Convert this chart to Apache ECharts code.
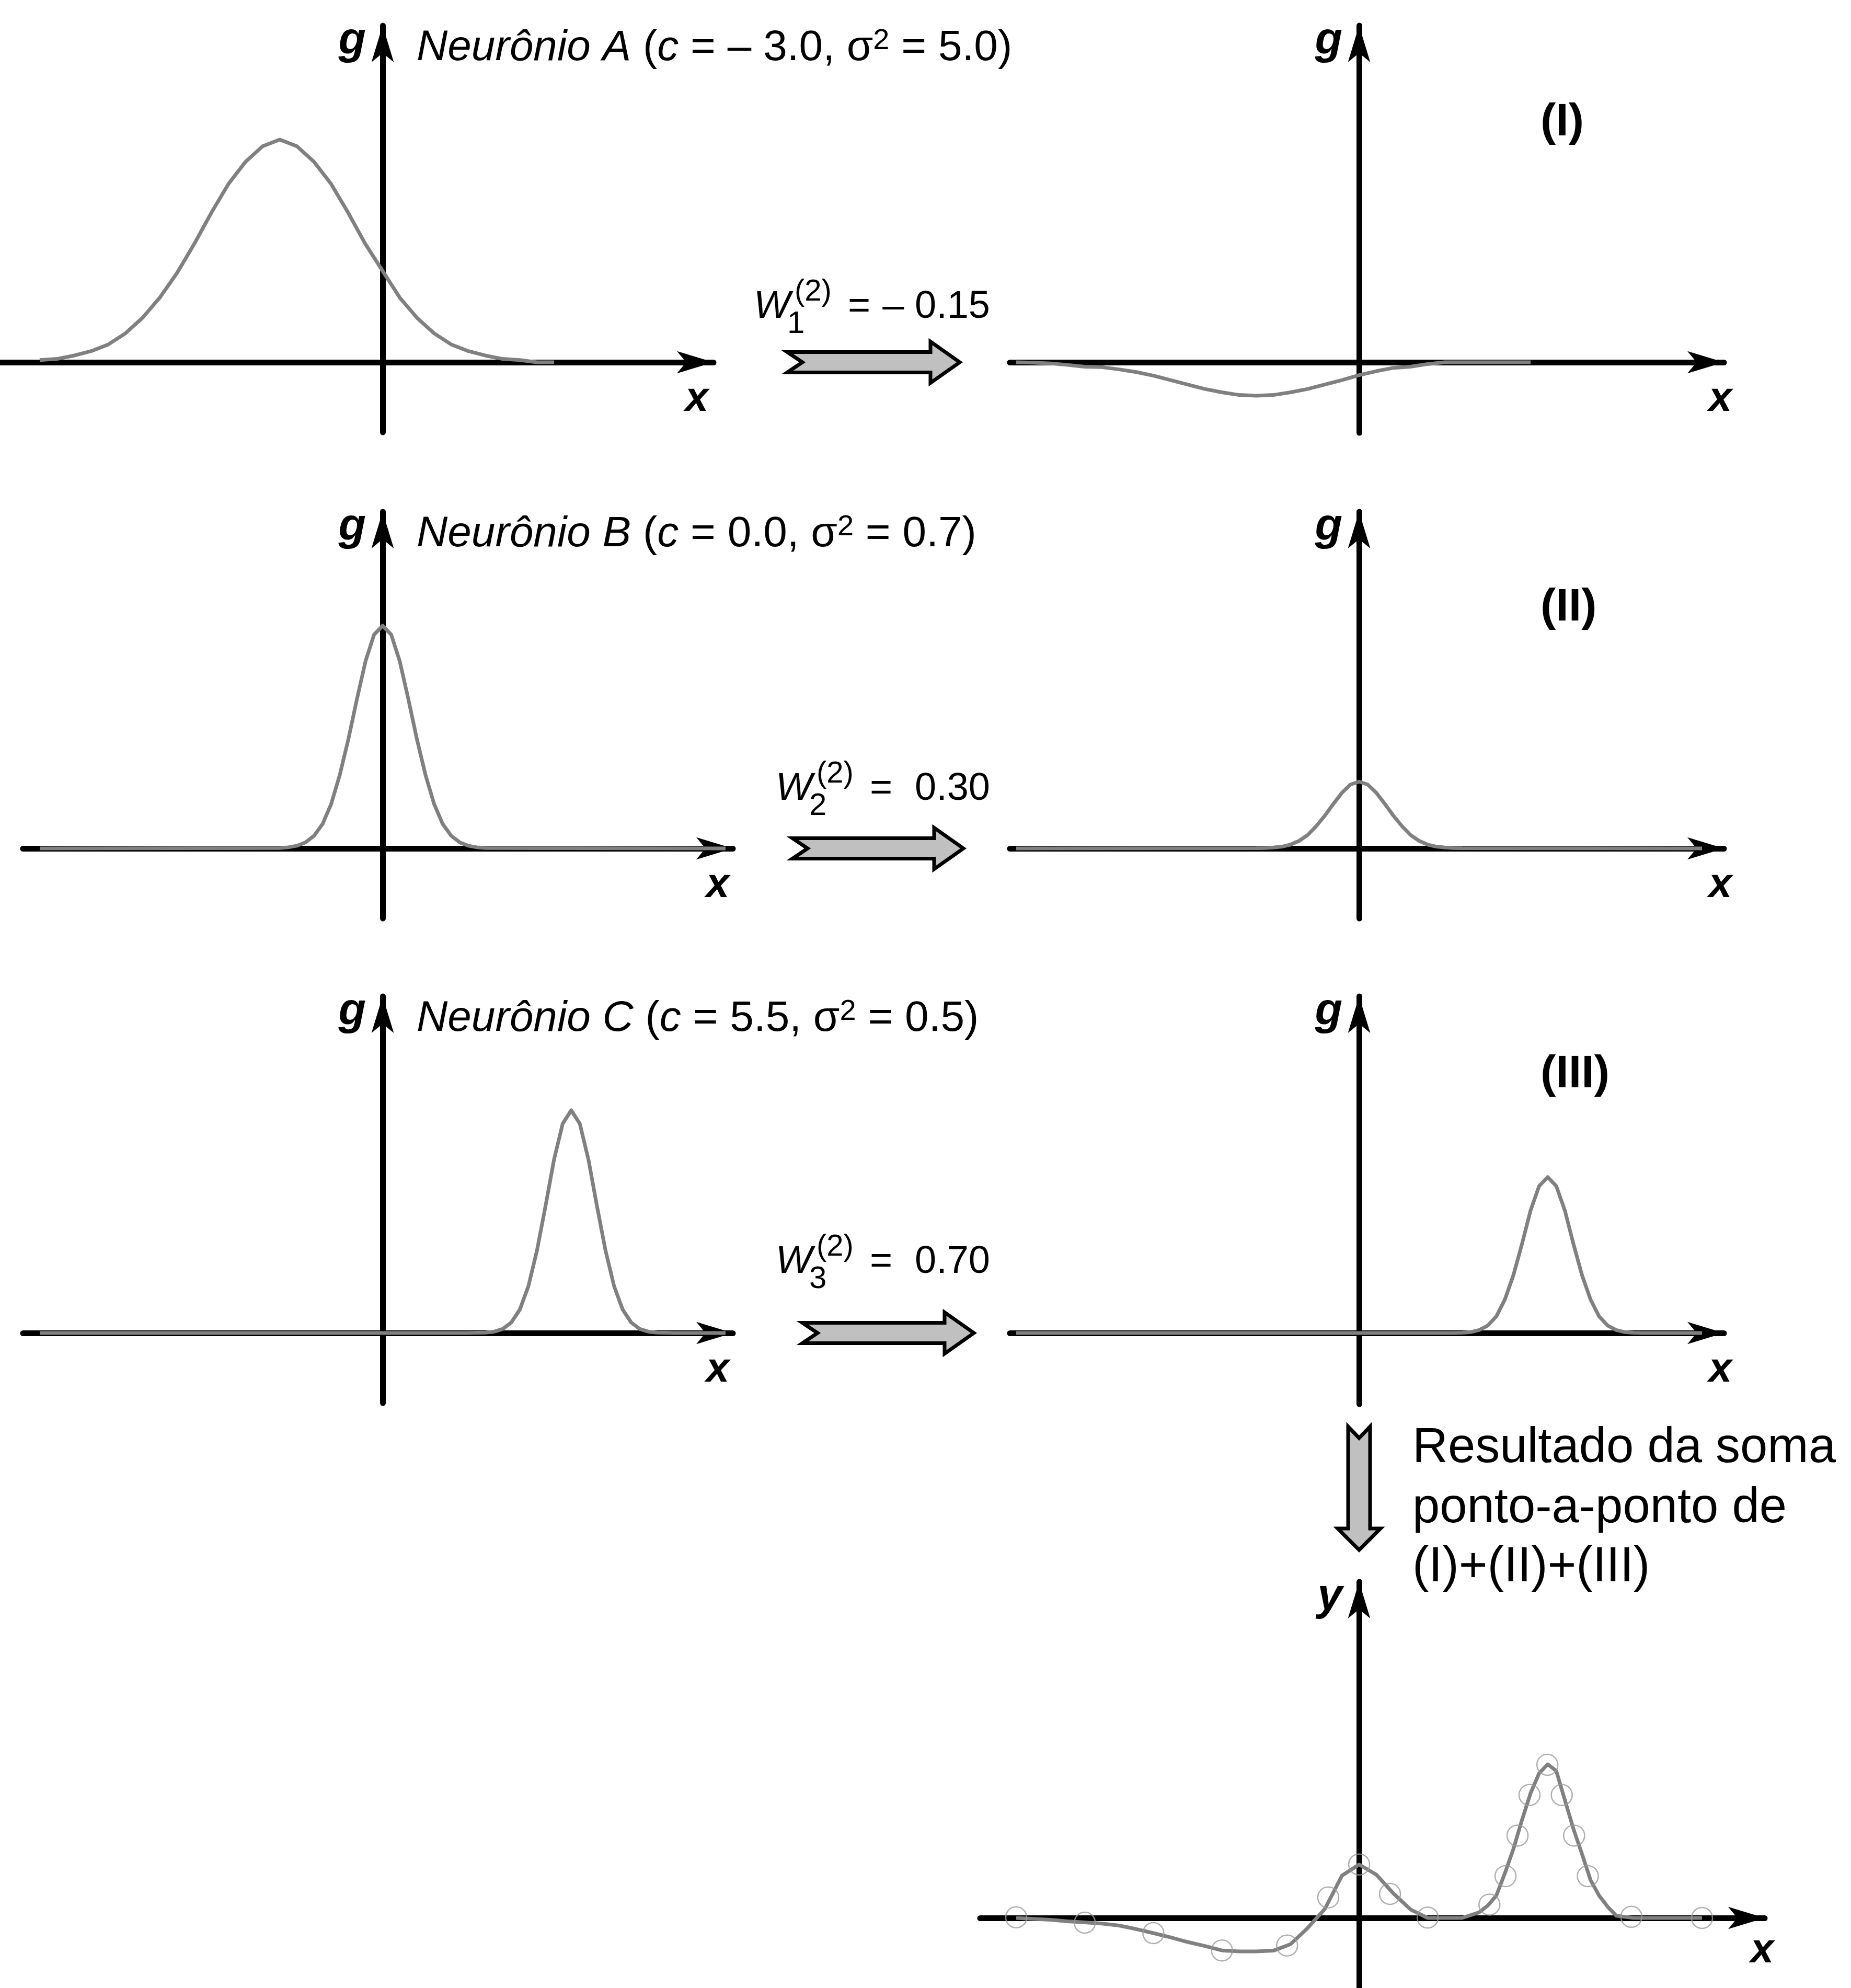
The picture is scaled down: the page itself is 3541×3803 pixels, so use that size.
<!DOCTYPE html>
<html><head><meta charset="utf-8">
<script src="https://cdn.jsdelivr.net/npm/echarts@6/dist/echarts.min.js"></script>
<style>html,body{margin:0;padding:0;background:#fff}#c{width:3541px;height:3803px}</style>
</head><body><div id="c"></div>
<script>
// ---------------- data ----------------
const xA = [-10,-9.5,-9,-8.5,-8,-7.5,-7,-6.5,-6,-5.5,-5,-4.5,-4,-3.5,-3,-2.5,-2,-1.5,-1,-0.5,0,0.5,1,1.5,2,2.5,3,3.5,4,4.5,5];
const gA = [0.01,0.015,0.03,0.05,0.08,0.13,0.20,0.29,0.40,0.53,0.67,0.80,0.90,0.97,1.00,0.97,0.90,0.80,0.67,0.53,0.41,0.29,0.20,0.13,0.08,0.05,0.03,0.015,0.01,0,0];
const gI = [0,-0.002,-0.005,-0.012,-0.02,-0.022,-0.032,-0.044,-0.06,-0.08,-0.10,-0.12,-0.135,-0.147,-0.15,-0.147,-0.135,-0.12,-0.10,-0.08,-0.058,-0.04,-0.025,-0.02,-0.008,0,0,0,0,0,0];

const xB = [-10,-3,-2.75,-2.5,-2.25,-2,-1.75,-1.5,-1.25,-1,-0.75,-0.5,-0.25,0,0.25,0.5,0.75,1,1.25,1.5,1.75,2,2.25,2.5,2.75,3,10];
const gB = [0,0.002,0.005,0.012,0.027,0.057,0.11,0.20,0.33,0.49,0.67,0.84,0.96,1.0,0.96,0.84,0.67,0.49,0.33,0.20,0.11,0.057,0.027,0.012,0.005,0.002,0];
const gII = [0,0.001,0.002,0.004,0.008,0.017,0.034,0.06,0.10,0.147,0.20,0.25,0.287,0.30,0.287,0.25,0.20,0.147,0.10,0.06,0.034,0.017,0.008,0.004,0.002,0.001,0];

const xC = [-10,2.5,2.75,3,3.25,3.5,3.75,4,4.25,4.5,4.75,5,5.25,5.5,5.75,6,6.25,6.5,6.75,7,7.25,7.5,7.75,8,8.25,8.5,10];
const gC = [0,0,0.001,0.002,0.006,0.018,0.047,0.105,0.21,0.37,0.57,0.78,0.94,1.0,0.94,0.78,0.57,0.37,0.21,0.105,0.047,0.018,0.006,0.002,0.001,0,0];
const gIII = [0,0,0,0.001,0.004,0.013,0.033,0.074,0.15,0.26,0.40,0.55,0.66,0.70,0.66,0.55,0.40,0.26,0.15,0.074,0.033,0.013,0.004,0.001,0,0,0];

const xSum = [-10,-9,-8.5,-8,-7.5,-7,-6.5,-6,-5.5,-5,-4.5,-4,-3.5,-3,-2.5,-2,-1.5,-1,-0.5,0,0.5,1,1.5,2,2.5,3,3.5,3.75,4,4.25,4.5,4.75,5,5.25,5.5,5.75,6,6.25,6.5,6.75,7,7.25,7.5,8,9,10];
const ySum = [0,-0.008,-0.015,-0.02,-0.025,-0.034,-0.05,-0.068,-0.087,-0.108,-0.126,-0.146,-0.15,-0.15,-0.147,-0.118,-0.045,0.04,0.19,0.24,0.195,0.11,0.038,0,0,0,0.025,0.055,0.10,0.20,0.31,0.44,0.56,0.65,0.69,0.66,0.53,0.40,0.287,0.17,0.10,0.05,0.01,0,0,0];

const xPts = [-10,-8,-6,-4,-2.1,-0.9,0,0.9,2,3.8,4.27,4.62,4.97,5.49,5.91,6.27,6.67,7.94,10];
const yPts = [0.003,-0.021,-0.068,-0.146,-0.124,0.092,0.24,0.108,0.002,0.06,0.188,0.37,0.552,0.688,0.552,0.37,0.188,0.005,0];

const neuronLabels = ['{i|Neurônio A} ({i|c} = – 3.0, σ{s|2} = 5.0)',
                      '{i|Neurônio B} ({i|c} = 0.0, σ{s|2} = 0.7)',
                      '{i|Neurônio C} ({i|c} = 5.5, σ{s|2} = 0.5)'];
const weightSubs = ['1','2','3'];
const weightVals = ['– 0.15','0.30','0.70'];
const romanLabels = ['(I)','(II)','(III)'];
const resultLines = ['Resultado da soma','ponto-a-ponto de','(I)+(II)+(III)'];

// ---------------- layout ----------------
const FONT = '"Liberation Sans", Arial, sans-serif';
const UX = 65.6, UY = 426, AW = 32, AL = 70;
const P = [
  {ox:732,  oy:693,  l:0,    r:1365, t:49,   b:827},   // A
  {ox:732,  oy:1623, l:44,   r:1402, t:979,  b:1757},  // B
  {ox:732,  oy:2550, l:44,   r:1402, t:1906, b:2684},  // C
  {ox:2600, oy:693,  l:1932, r:3298, t:49,   b:828},   // I
  {ox:2600, oy:1623, l:1932, r:3298, t:979,  b:1757},  // II
  {ox:2600, oy:2550, l:1932, r:3298, t:1906, b:2686},  // III
  {ox:2600, oy:3669, l:1875, r:3376, t:3026, b:3803}   // soma
];
const grid = [], xAxis = [], yAxis = [];
P.forEach((p, i) => {
  const gl = p.l, gr = p.r, gt = p.t, gb = p.b;
  grid.push({left: gl, top: gt, width: gr - gl, height: gb - gt});
  const axisLine = {show: true, onZero: true, symbol: ['none', 'arrow'], symbolSize: [AW, AL],
                    lineStyle: {color: '#000', width: 11}};
  const common = {axisTick: {show: false}, axisLabel: {show: false}, splitLine: {show: false}, axisLine};
  xAxis.push(Object.assign({gridIndex: i, type: 'value', min: (gl - p.ox) / UX, max: (gr - p.ox) / UX}, common));
  yAxis.push(Object.assign({gridIndex: i, type: 'value', min: (p.oy - gb) / UY, max: (p.oy - gt) / UY}, common));
});

const pairs = (xs, ys) => xs.map((x, k) => [x, ys[k]]);
const lineSeries = (xs, ys, idx) => ({type: 'line', xAxisIndex: idx, yAxisIndex: idx, data: pairs(xs, ys),
  showSymbol: false, symbol: 'none', smooth: false, z: 3, clip: false,
  lineStyle: {color: '#808080', width: 7, join: 'round'}});
const series = [
  lineSeries(xA, gA, 0), lineSeries(xB, gB, 1), lineSeries(xC, gC, 2),
  lineSeries(xA, gI, 3), lineSeries(xB, gII, 4), lineSeries(xC, gIII, 5),
  lineSeries(xSum, ySum, 6),
  {type: 'scatter', xAxisIndex: 6, yAxisIndex: 6, data: pairs(xPts, yPts), symbol: 'circle', symbolSize: 40, z: 4,
   itemStyle: {color: 'rgba(0,0,0,0)', borderColor: '#9a9a9a', borderWidth: 2.5}}
];

// ---------------- texts & block arrows ----------------
function T(x, base, text, fs, o) {
  o = o || {};
  const a = o.a || 'left';
  const st = {text: text, fill: '#000', fontSize: fs, fontFamily: FONT,
    fontStyle: o.it ? 'italic' : 'normal', fontWeight: o.b ? 'bold' : 'normal',
    align: a, verticalAlign: 'middle', textAlign: a, textVerticalAlign: 'middle'};
  if (o.rich) st.rich = o.rich;
  return {type: 'text', x: x, y: base - 0.28 * fs, z: 100, silent: true, style: st};
}
function rArrow(x0, x1, cy) {
  const hl = 56, sh = 19.5, hh = 39.5, nd = 29;
  return {type: 'polygon', z: 50, silent: true,
    shape: {points: [[x0, cy - sh], [x1 - hl, cy - sh], [x1 - hl, cy - hh], [x1, cy], [x1 - hl, cy + hh], [x1 - hl, cy + sh], [x0, cy + sh], [x0 + nd, cy]]},
    style: {fill: '#c0c0c0', stroke: '#000', lineWidth: 7, lineJoin: 'miter'}};
}
function dArrow(cx, y0, y1) {
  const hl = 41, sh = 21, hh = 41, nd = 22;
  return {type: 'polygon', z: 50, silent: true,
    shape: {points: [[cx - sh, y0], [cx, y0 + nd], [cx + sh, y0], [cx + sh, y1 - hl], [cx + hh, y1 - hl], [cx, y1], [cx - hh, y1 - hl], [cx - sh, y1 - hl]]},
    style: {fill: '#c0c0c0', stroke: '#000', lineWidth: 7, lineJoin: 'miter'}};
}

const g = [];
const richN = {i: {fontStyle: 'italic', fontSize: 82, fontFamily: FONT, fill: '#000'},
               s: {fontSize: 56, fontFamily: FONT, verticalAlign: 'top', fill: '#000'}};
const neuronBase = [115, 1045, 1972];
neuronLabels.forEach((t, k) => g.push(T(797, neuronBase[k], t, 82, {rich: richN})));

// axis names
[0,1,2,3,4,5].forEach(i => {
  const p = P[i];
  g.push(T(p.ox - 32, p.t + 53, 'g', 86, {b: true, it: true, a: 'right'}));
});
g.push(T(P[6].ox - 32, P[6].t + 53, 'y', 86, {b: true, it: true, a: 'right'}));
const xLabX = [1333, 1373, 1373, 3291, 3291, 3291, 3371];
P.forEach((p, i) => g.push(T(xLabX[i], p.oy + (i === 6 ? 85 : 93), 'x', 80, {b: true, it: true, a: 'center'})));

// weights
const wLeft = [1442, 1484, 1484];
const wBase = [608, 1530, 2435];
const eqLeft = [1622, 1664, 1664];
wLeft.forEach((x, k) => {
  g.push(T(x, wBase[k], 'W', 74, {it: true}));
  g.push(T(x + 64, wBase[k] + 29, weightSubs[k], 60));
  g.push(T(x + 78, wBase[k] - 33, '(2)', 58));
  g.push(T(eqLeft[k], wBase[k], '=', 74));
  g.push(T(1894, wBase[k], weightVals[k], 74, {a: 'right'}));
});

// block arrows
g.push(rArrow(1506, 1836, 693));
g.push(rArrow(1516, 1843, 1623));
g.push(rArrow(1535, 1863, 2550));
g.push(dArrow(2600, 2729, 2965));

// roman labels
const romanBase = [259, 1187, 2080];
romanLabels.forEach((t, k) => g.push(T(2947, romanBase[k], t, 88, {b: true})));

// result text
const resBase = [2797, 2912, 3025];
resultLines.forEach((t, k) => g.push(T(2702, resBase[k], t, 94)));

const chart = echarts.init(document.getElementById('c'), null, {renderer: 'canvas', width: 3541, height: 3803});
chart.setOption({
  animation: false,
  backgroundColor: '#fff',
  grid, xAxis, yAxis, series,
  graphic: {elements: g}
});
</script>
</body></html>
